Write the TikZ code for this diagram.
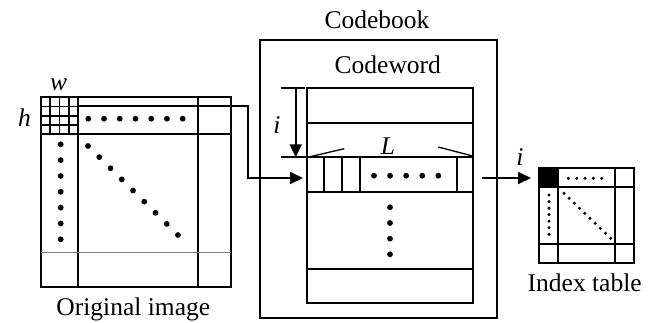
\documentclass[tikz,border=0pt]{standalone}
\usepackage{fontspec}
\setmainfont{Liberation Serif}
\usetikzlibrary{arrows.meta}

\begin{document}
\begin{tikzpicture}[x=1pt, y=-1pt, line width=1.8pt]
    \tikzstyle{every node} = [inner sep=0pt, anchor=base, font=\fontsize{25.5}{30}\selectfont]
    \tikzstyle{bigarrow} = [-{Triangle[length=13pt, width=12pt]}]
    \useasboundingbox (0, 0) rectangle (658, 322);

    % original image
    \draw (40.7, 97.3) rectangle (230.7, 286.7);
    \draw (78.3, 97.3) -- (78.3, 286.7);
    \draw (197.7, 97.3) -- (197.7, 286.7);
    \draw (40.7, 134.3) -- (230.7, 134.3);
    \draw [gray, line width=0.9pt] (40.7, 252.3) -- (230.7, 252.3);
    \foreach \k in {1, 2, 3} {
        \draw [line width=1.4pt] (40.7+\k*9.4, 97.3) -- ++(0, 37);
        \draw [line width=1.4pt] (40.7, 97.3+\k*9.25) -- ++(37.6, 0);
    }
    \foreach \k in {0, ..., 6} {
        \fill (88.3+\k*15.73, 118.7) circle (2.9);
        \fill (60.7, 144.3+\k*15.83) circle (2.9);
    }
    \foreach \k in {0, ..., 8}
        \fill (88+\k*11.25, 146+\k*11.13) circle (2.9);
    \node (labelw) at (58.7, 90) {\textit{w}};
    \node (labelh) at (24.5, 126) {\textit{h}};
    \node (origlabel) at (133.3, 315) {Original image};

    % codebook and codeword
    \draw (260, 40) rectangle (497.3, 318.3);
    \node (codebook) at (377, 28.3) {Codebook};
    \node (codeword) at (387.8, 73.3) {Codeword};
    \draw (307.3, 88.3) rectangle (473.3, 303.3);
    \foreach \yy in {123.3, 157.3, 192.3, 269.3}
        \draw (307.3, \yy) -- (473.3, \yy);
    \foreach \xx in {324, 342.3, 360, 457.3}
        \draw (\xx, 157.3) -- (\xx, 192.3);
    \foreach \k in {0, ..., 4}
        \fill (374+\k*16.08, 175.7) circle (2.9);
    \foreach \k in {0, ..., 3}
        \fill (390, 207.3+\k*15.67) circle (2.9);
    \draw [line width=1.3pt] (310, 156.7) -- (344.3, 148.7);
    \draw [line width=1.3pt] (438.3, 147) -- (472.7, 156);
    \node (labelL) at (388, 154) {\textit{L}};

    % row offset i
    \coordinate (itop) at (295.7, 88.3);
    \coordinate (ibot) at (295.7, 157.3);
    \draw (280.7, 88.3) -- (305, 88.3);
    \draw (280.7, 157.3) -- (307.3, 157.3);
    \draw [bigarrow] (itop) -- (ibot);
    \node (labeli) at (277, 133) {\textit{i}};

    % index table
    \draw (539.3, 167.7) rectangle (634, 262.7);
    \fill (539.3, 167.7) rectangle (558.3, 186.7);
    \draw (558.3, 167.7) -- (558.3, 262.7);
    \draw (615, 167.7) -- (615, 262.7);
    \draw (539.3, 186.7) -- (634, 186.7);
    \draw (539.3, 244) -- (634, 244);
    \foreach \k in {0, ..., 4}
        \fill (568.3+\k*8.35, 178.3) circle (1.7);
    \foreach \k in {0, ..., 6}
        \fill (549, 195+\k*6.55) circle (1.7);
    \foreach \k in {0, ..., 9}
        \fill (564+\k*5.19, 193.3+\k*5) circle (1.7);
    \node (indexlabel) at (584.7, 291.7) {Index table};
    \node (labelj) at (520, 165) {\textit{i}};

    % connectors
    \coordinate (gridout) at (78.3, 106);
    \coordinate (rowin) at (303, 178);
    \coordinate (rowout) at (482, 178);
    \coordinate (indexin) at (531, 178);
    \draw [bigarrow] (gridout) -| (248.3, 178) -- (rowin);
    \draw [bigarrow] (rowout) -- (indexin);
\end{tikzpicture}
\end{document}
